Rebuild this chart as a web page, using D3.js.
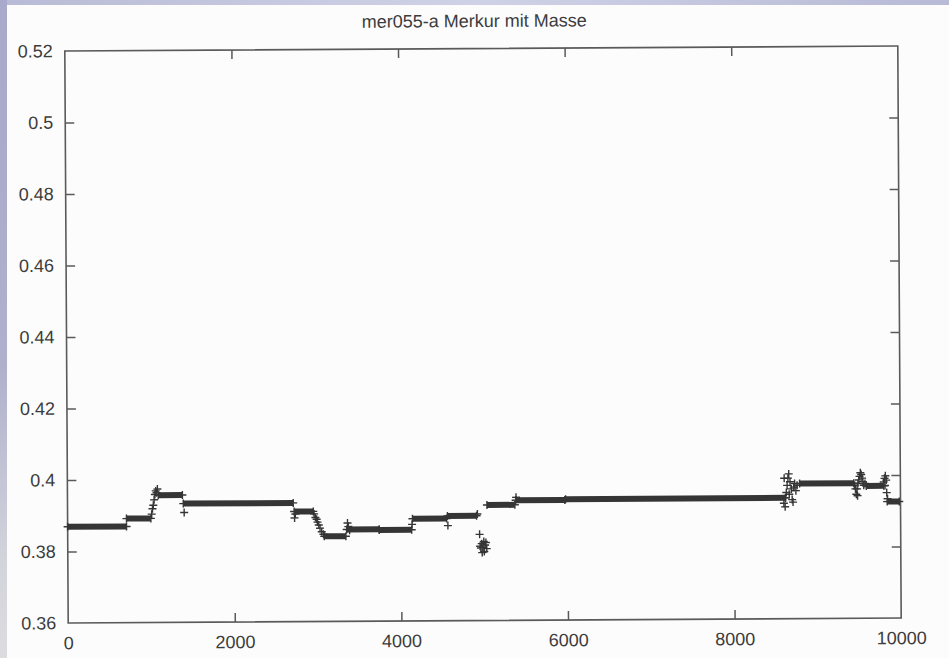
<!DOCTYPE html>
<html>
<head>
<meta charset="utf-8">
<script src="https://cdn.jsdelivr.net/npm/d3@7"></script>
<style>
  html, body { margin: 0; padding: 0; background: #ffffff; }
  svg { display: block; }
  text { font-family: "Liberation Sans", Arial, Helvetica, sans-serif; fill: #3c3c3c; }
</style>
</head>
<body>
<svg id="chart" width="949" height="658"></svg>
<script>
// ---- data ----
const title = "mer055-a Merkur mit Masse";
const xTicks = [0, 2000, 4000, 6000, 8000, 10000];
const yTicks = [0.36, 0.38, 0.4, 0.42, 0.44, 0.46, 0.48, 0.5, 0.52];
const yTickLabels = ["0.36", "0.38", "0.4", "0.42", "0.44", "0.46", "0.48", "0.5", "0.52"];

// plateaus of the dense "+" series
const levelStart = [0, 707, 1090, 1390, 2720, 3080, 3350, 3740, 4140, 4560, 5035, 5380, 5980, 8790, 9590, 9840];
const levelEnd   = [707, 1000, 1380, 2710, 2950, 3340, 3740, 4130, 4550, 4910, 5370, 5970, 8620, 9440, 9800, 9985];
const levelValue = [0.3869, 0.3891, 0.3956, 0.3932, 0.3908, 0.3838, 0.3857, 0.3855, 0.3886, 0.3893, 0.3923, 0.3936, 0.3938, 0.3978, 0.3970, 0.3926];

// scattered points at the transitions
const scatterX = [1010, 1020, 1030, 1040, 1050, 1060, 1070, 1080, 1400,
  2725, 2735, 2960, 2975, 2990, 3000, 3015, 3030, 3050, 3070,
  3360, 3370, 3385, 4135, 4565, 4920,
  4945, 4950, 4960, 4970, 4975, 4985, 4995, 5000, 5010, 5020, 5030,
  5385,
  8600, 8605, 8615, 8620, 8630, 8640, 8650, 8660, 8665, 8675, 8690, 8700, 8710, 8720, 8730, 8745, 8760,
  9450, 9460, 9470, 9480, 9490, 9500, 9510, 9520, 9530, 9540, 9550, 9560, 9575, 9485,
  9800, 9810, 9820, 9830, 9815, 9835, 9845];
const scatterY = [0.3903, 0.3918, 0.3928, 0.3943, 0.3958, 0.3968, 0.3963, 0.3973, 0.3907,
  0.3890, 0.3901, 0.3901, 0.3891, 0.3886, 0.3878, 0.3870, 0.3861, 0.3851, 0.3844,
  0.3875, 0.3865, 0.3855, 0.3870, 0.3866, 0.3898,
  0.3841, 0.3808, 0.3803, 0.3815, 0.3790, 0.3805, 0.3821, 0.3793, 0.3811, 0.3818, 0.3801,
  0.3944,
  0.3923, 0.3993, 0.3913, 0.3938, 0.3953, 0.3973, 0.3993, 0.4005, 0.3948, 0.3983, 0.3963, 0.3933, 0.3926, 0.3968, 0.3978, 0.3958, 0.3973,
  0.3972, 0.3962, 0.3947, 0.3962, 0.3977, 0.3987, 0.3997, 0.4007, 0.4002, 0.3992, 0.3982, 0.3972, 0.3977, 0.3943,
  0.3981, 0.3991, 0.3998, 0.3986, 0.3971, 0.3951, 0.3934];

// ---- layout ----
const W = 949, H = 658;
const L = 66.5, R = 899.5, T = 48.5, B = 620.5;
const svg = d3.select("#chart");

// scanned background: lavender strips at left and top
const defs = svg.append("defs");
const gl = defs.append("linearGradient").attr("id", "leftStrip").attr("x1", 0).attr("y1", 0).attr("x2", 0).attr("y2", 1);
gl.append("stop").attr("offset", "0%").attr("stop-color", "#a9a9cb");
gl.append("stop").attr("offset", "55%").attr("stop-color", "#aeb0cc");
gl.append("stop").attr("offset", "85%").attr("stop-color", "#d3d3db");
gl.append("stop").attr("offset", "100%").attr("stop-color", "#dcdce0");
const gt = defs.append("linearGradient").attr("id", "topStrip").attr("x1", 0).attr("y1", 0).attr("x2", 1).attr("y2", 0);
gt.append("stop").attr("offset", "0%").attr("stop-color", "#b9bbd6");
gt.append("stop").attr("offset", "50%").attr("stop-color", "#cfd2e6");
gt.append("stop").attr("offset", "100%").attr("stop-color", "#b8bad6");

svg.append("rect").attr("width", W).attr("height", H).attr("fill", "#fcfcfc");
svg.append("rect").attr("x", 0).attr("y", 0).attr("width", W).attr("height", 5).attr("fill", "url(#topStrip)");
svg.append("rect").attr("x", 0).attr("y", 0).attr("width", 7).attr("height", H).attr("fill", "url(#leftStrip)");

const cx = (L + R) / 2, cy = (T + B) / 2;
const g = svg.append("g").attr("transform", `rotate(-0.34 ${cx} ${cy})`);

const x = d3.scaleLinear().domain([0, 10000]).range([L, R]);
const y = d3.scaleLinear().domain([0.36, 0.52]).range([B, T]);

const axisColor = "#5a5a5a";
const tickLen = 9;

// title
g.append("text").attr("x", 476).attr("y", 27).attr("text-anchor", "middle")
  .style("font-size", "18px").text(title);

// axes (gnuplot style, ticks mirrored inward)
const xAxisB = d3.axisBottom(x).tickValues(xTicks).tickSizeInner(-tickLen).tickSizeOuter(0).tickPadding(10).tickFormat(d3.format("d"));
const xAxisT = d3.axisTop(x).tickValues(xTicks.slice(1, -1)).tickSizeInner(-tickLen).tickSizeOuter(0).tickFormat("");
const yAxisL = d3.axisLeft(y).tickValues(yTicks).tickSizeInner(-tickLen).tickSizeOuter(0).tickPadding(12)
  .tickFormat((d, i) => yTickLabels[i]);
const yAxisR = d3.axisRight(y).tickValues(yTicks.slice(1, -1)).tickSizeInner(-tickLen).tickSizeOuter(0).tickFormat("");

function styleAxis(sel) {
  sel.select(".domain").remove();
  sel.selectAll(".tick line").attr("stroke", axisColor).attr("stroke-width", 1.5);
  sel.selectAll(".tick text").style("font-size", "18px").attr("fill", "#3c3c3c");
}
const gxb = g.append("g").attr("transform", `translate(0,${B})`).call(xAxisB).call(styleAxis);
gxb.selectAll(".tick").filter(d => d === 0 || d === 10000).select("line").remove();
gxb.selectAll(".tick text").attr("dy", "0.9em");
g.append("g").attr("transform", `translate(0,${T})`).call(xAxisT).call(styleAxis);
const gyl = g.append("g").attr("transform", `translate(${L},0)`).call(yAxisL).call(styleAxis);
gyl.selectAll(".tick").filter(d => d === 0.36 || d === 0.52).select("line").remove();
g.append("g").attr("transform", `translate(${R},0)`).call(yAxisR).call(styleAxis);

// frame
g.append("rect").attr("x", L).attr("y", T).attr("width", R - L).attr("height", B - T)
  .attr("fill", "none").attr("stroke", axisColor).attr("stroke-width", 1.6);

// data
const markColor = "#353535";
const plus = "M-4,0H4M0,-4V4";
const levels = levelStart.map((s, i) => ({ s, e: levelEnd[i], v: levelValue[i] }));

g.append("g").selectAll("line").data(levels).join("line")
  .attr("x1", d => x(d.s)).attr("x2", d => x(d.e))
  .attr("y1", d => y(d.v)).attr("y2", d => y(d.v))
  .attr("stroke", markColor).attr("stroke-width", 6);

const endPts = levels.flatMap(d => [{ px: d.s, py: d.v }, { px: d.e, py: d.v }]);
const scat = scatterX.map((v, i) => ({ px: v, py: scatterY[i] }));

g.append("g").selectAll("path").data(endPts.concat(scat)).join("path")
  .attr("transform", d => `translate(${x(d.px)},${y(d.py)})`)
  .attr("d", plus).attr("stroke", markColor).attr("stroke-width", 1.4).attr("fill", "none");
</script>
</body>
</html>
